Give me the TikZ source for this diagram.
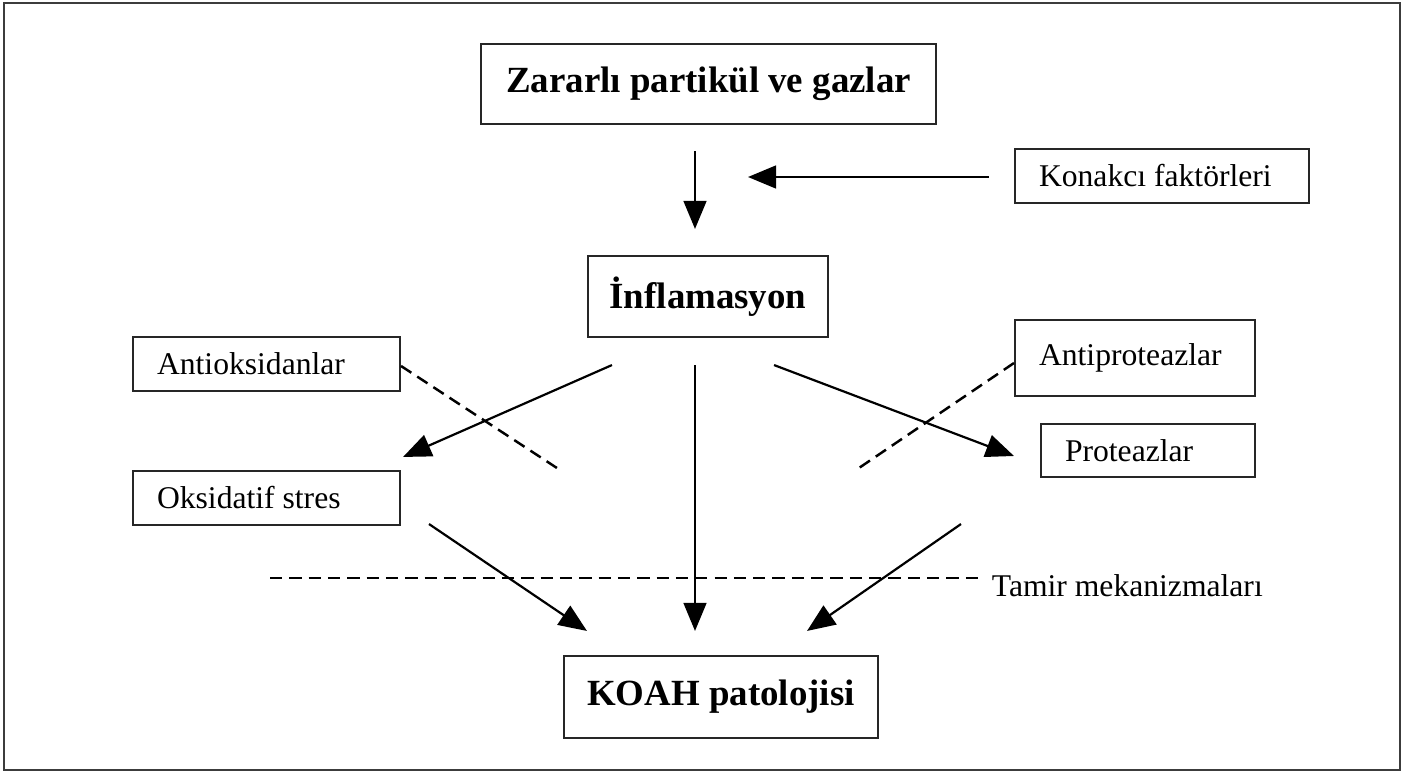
\documentclass[tikz,border=0pt]{standalone}
\usepackage{fontspec}
\setmainfont{Liberation Serif}
\usetikzlibrary{positioning, arrows.meta, calc}
\definecolor{framegray}{RGB}{60,60,60}

\begin{document}
\begin{tikzpicture}[x=0.02cm, y=-0.02cm,
  bx/.style={rectangle, draw=black!85, line width=1.2pt, inner sep=0pt,
    font=\fontsize{18}{20}\selectfont, align=center},
  sbx/.style={bx, inner xsep=0.48cm, align=flush left},
  hbx/.style={bx, font=\fontsize{21}{24}\selectfont\bfseries},
  lbl/.style={font=\fontsize{18}{20}\selectfont, inner sep=2pt},
  arr/.style={-{Triangle[length=16pt, width=13pt]}, line width=1.25pt, black},
  dsh/.style={dash pattern=on 7pt off 4pt, line width=1.4pt, black},
]
  \useasboundingbox (0,0) rectangle (1416,774);
  \draw[framegray, line width=1.1pt] (4,3) rectangle (1400,770);

  \node[hbx, minimum width=9.1cm, minimum height=1.6cm] (zarar) at (708.5,84) {Zararlı partikül ve gazlar};
  \node[sbx, text width=4.92cm, minimum height=1.08cm] (konak) at (1162,176) {Konakcı faktörleri};
  \node[hbx, minimum width=4.8cm, minimum height=1.62cm] (infl) at (708,296.5) {İnflamasyon};
  \node[sbx, text width=4.38cm, minimum height=1.08cm] (antiok) at (266.5,364) {Antioksidanlar};
  \node[sbx, text width=4.38cm, minimum height=1.08cm] (oks) at (266.5,498) {Oksidatif stres};
  \node[sbx, text width=3.84cm, minimum height=1.52cm] (antip) at (1135,358) {\raisebox{0.12cm}{Antiproteazlar}};
  \node[sbx, text width=3.32cm, minimum height=1.06cm] (prot) at (1148,450.5) {Proteazlar};
  \node[hbx, minimum width=6.28cm, minimum height=1.64cm] (koah) at (721,697) {KOAH patolojisi};
  \node[lbl, anchor=west] (tamir) at (988,586) {Tamir mekanizmaları};

  \coordinate (hostin) at (748,177);
  \coordinate (antiokend) at (560,470);
  \coordinate (antipend) at (856,470);
  \coordinate (tamirstart) at (270,578);

  % top
  \draw[arr] ($(zarar.south)+(-13.5,26)$) -- ($(infl.north)+(-13,-26)$);
  \draw[arr] ($(konak.west)+(-25,1)$) -- (hostin);

  % from inflammation
  \draw[arr] ($(infl.south west)+(25,27)$) -- ($(oks.north east)+(2,-13)$);
  \draw[arr] ($(infl.south)+(-13,27)$) -- ($(koah.north)+(-26,-24)$);
  \draw[arr] ($(infl.south east)+(-55,27)$) -- ($(prot.west)+(-26,5.5)$);

  % inhibitors
  \draw[dsh] ($(antiok.east)+(0,2)$) -- (antiokend);
  \draw[dsh] ($(antip.west)+(0,5)$) -- (antipend);

  % into pathology
  \draw[arr] ($(oks.south east)+(28,-2)$) -- ($(koah.north west)+(24,-24)$);
  \draw[arr] ($(prot.south west)+(-79,46)$) -- ($(koah.north east)+(-72,-24)$);

  % repair line
  \draw[dsh] (tamirstart) -- ($(tamir.west)+(-3,-8)$);
\end{tikzpicture}
\end{document}
